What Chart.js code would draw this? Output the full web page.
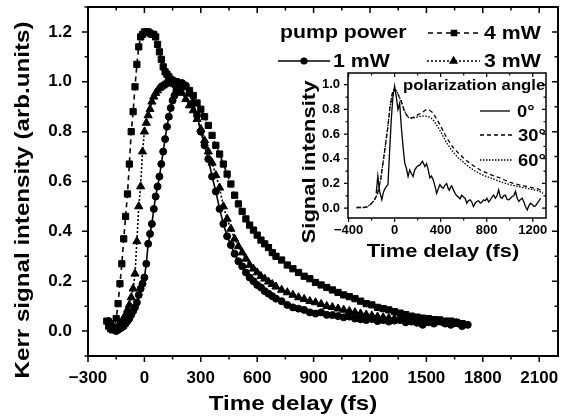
<!DOCTYPE html>
<html>
<head>
<meta charset="utf-8">
<script src="https://cdn.jsdelivr.net/npm/chart.js@4.4.0/dist/chart.umd.min.js"></script>
<style>
  html, body { margin: 0; padding: 0; background: #fff; }
  #wrap { position: relative; width: 567px; height: 417px; }
  #mainChart { position: absolute; left: 0; top: 0; }
  #insetChart { position: absolute; left: 285px; top: 65px; }
</style>
</head>
<body>
<div id="wrap">
  <canvas id="mainChart" width="567" height="417"></canvas>
  <canvas id="insetChart" width="270" height="200"></canvas>
</div>
<script>
// ---- main plot data (time delay in fs, Kerr signal in arb. units) ----
const times = [
  -200,-190,-180,-170,-160,-150,-140,-130,-120,-110,
  -100,-90,-80,-70,-60,-50,-40,-30,-20,-10,
  0,10,20,30,40,50,60,70,80,90,
  100,110,120,130,140,150,160,170,180,190,
  200,220,240,260,280,300,320,340,360,380,
  400,420,440,460,480,500,520,540,560,580,
  600,620,640,660,680,700,730,760,790,820,
  850,880,910,940,970,1000,1030,1060,1090,1120,
  1150,1180,1210,1240,1270,1300,1330,1360,1390,1420,
  1450,1480,1510,1540,1570,1600,1630,1660,1690,1720
];
const power4mW = [
  0.04,0.02,0.01,0.005,0.01,0.05,0.11,0.19,0.27,0.37,
  0.46,0.55,0.67,0.80,0.88,0.98,1.07,1.14,1.18,1.19,
  1.20,1.20,1.20,1.195,1.19,1.19,1.18,1.15,1.12,1.09,
  1.06,1.04,1.03,1.02,1.01,1.005,1.0,1.0,0.995,0.99,
  0.99,0.98,0.965,0.945,0.915,0.89,0.86,0.825,0.785,0.745,
  0.71,0.67,0.63,0.59,0.545,0.51,0.48,0.45,0.425,0.405,
  0.385,0.365,0.35,0.335,0.315,0.30,0.285,0.265,0.25,0.235,
  0.22,0.21,0.195,0.185,0.175,0.165,0.155,0.145,0.138,0.13,
  0.12,0.11,0.105,0.095,0.09,0.085,0.078,0.072,0.066,0.06,
  0.056,0.052,0.05,0.046,0.045,0.04,0.04,0.035,0.03,null
];
const power1mW = [
  null,0.04,0.03,0.015,0.005,0.0,0.005,0.01,0.015,0.02,
  0.03,0.04,0.05,0.065,0.08,0.095,0.115,0.145,0.17,0.19,
  0.215,0.27,0.35,0.39,0.43,0.49,0.54,0.58,0.62,0.67,
  0.72,0.77,0.82,0.86,0.895,0.925,0.945,0.965,0.98,0.99,
  0.995,0.985,0.955,0.915,0.865,0.80,0.745,0.69,0.62,0.56,
  0.49,0.43,0.38,0.345,0.31,0.28,0.26,0.235,0.215,0.20,
  0.185,0.175,0.16,0.15,0.14,0.13,0.12,0.105,0.095,0.09,
  0.085,0.075,0.07,0.075,0.065,0.064,0.06,0.055,0.058,0.05,
  0.047,0.044,0.048,0.04,0.044,0.038,0.042,0.044,0.035,0.038,
  0.033,0.025,0.035,0.03,0.04,0.03,0.025,0.035,0.02,0.025
];
const power3mW = [
  null,null,0.03,0.02,0.01,0.01,0.02,0.03,0.04,0.05,
  0.065,0.085,0.105,0.135,0.17,0.23,0.36,0.50,0.58,0.72,
  0.80,0.835,0.865,0.89,0.92,0.94,0.955,0.965,0.975,0.98,
  0.985,0.99,0.995,1.0,1.0,0.995,0.99,0.985,0.975,0.965,
  0.955,0.93,0.905,0.885,0.85,0.81,0.765,0.72,0.675,0.625,
  0.575,0.50,0.45,0.41,0.37,0.34,0.315,0.29,0.265,0.25,
  0.235,0.22,0.21,0.198,0.188,0.178,0.165,0.155,0.145,0.135,
  0.128,0.12,0.115,0.108,0.10,0.096,0.09,0.085,0.08,0.075,
  0.07,0.066,0.062,0.058,0.055,0.052,0.05,0.047,0.045,0.043,
  0.04,0.04,0.038,0.035,0.035,0.032,0.03,0.028,0.025,null
];
const mainXTicks = [-300, 0, 300, 600, 900, 1200, 1500, 1800, 2100];
const mainYTicks = [0.0, 0.2, 0.4, 0.6, 0.8, 1.0, 1.2];

// ---- inset data (polarization angle) ----
const insetTimes = [
  -330,-300,-270,-240,-210,-180,-150,-120,-90,-60,-40,-20,0,20,40,60,80,100,120,150,
  180,210,240,270,300,330,360,400,450,500,550,600,650,700,750,800,850,900,950,1000,
  1050,1100,1150,1200,1250,1290
];
const angle30 = [
  0.005,0.005,0.005,0.01,0.03,0.06,0.11,0.24,0.44,0.65,0.82,0.93,0.965,0.945,0.90,0.86,0.80,0.76,0.735,0.73,
  0.745,0.76,0.775,0.795,0.795,0.775,0.73,0.665,0.575,0.50,0.45,0.405,0.365,0.335,0.305,0.285,0.265,0.25,0.23,0.21,
  0.195,0.185,0.175,0.165,0.155,0.13
];
const angle60 = [
  0.005,0.005,0.005,0.01,0.03,0.06,0.11,0.24,0.44,0.65,0.82,0.93,0.965,0.945,0.90,0.86,0.80,0.76,0.735,0.73,
  0.735,0.74,0.745,0.745,0.74,0.72,0.68,0.62,0.53,0.465,0.41,0.37,0.33,0.30,0.275,0.255,0.24,0.22,0.205,0.19,
  0.18,0.17,0.16,0.15,0.14,0.12
];
const angle0Times = [
  -160,-146,-131,-111,-100,-88,-73,-58,-44,-29,-15,0,15,29,44,58,73,88,102,117,
  131,146,160,175,195,219,242,263,277,292,306,320,335,350,365,380,394,408,423,437,
  452,465,475,486,496,510,525,540,554,568,583,598,612,627,641,656,670,685,700,714,
  729,744,758,773,788,802,817,831,846,860,875,889,904,918,933,947,962,977,992,1006,
  1021,1035,1050,1065,1079,1094,1108,1123,1137,1152,1166,1181,1196,1210,1225,1240,1255,1269
];
const angle0 = [
  0.12,0.26,0.14,0.067,0.12,0.15,0.175,0.19,0.45,0.72,0.9,0.99,0.9,0.8,0.85,0.66,0.5,0.365,0.325,0.256,
  0.31,0.28,0.256,0.31,0.337,0.35,0.38,0.337,0.36,0.31,0.245,0.26,0.23,0.18,0.12,0.16,0.19,0.17,0.16,0.185,
  0.2,0.16,0.145,0.17,0.18,0.15,0.12,0.1,0.09,0.075,0.105,0.09,0.08,0.04,0.06,0.067,0.05,0.013,0.04,0.054,
  0.06,0.04,0.05,0.067,0.06,0.08,0.05,0.067,0.09,0.105,0.08,0.1,0.148,0.09,0.08,0.1,0.105,0.07,0.067,0.08,
  0.094,0.1,0.135,0.08,0.054,0.07,0.08,0.05,0.013,-0.015,0.02,0.04,0.03,0.013,0.02,0.04,0.06,0.08
];
const insetXTicks = [-400, 0, 400, 800, 1200];
const insetYTicks = [0.0, 0.2, 0.4, 0.6, 0.8, 1.0];

const FONT = '"Liberation Sans", Arial, sans-serif';
Chart.defaults.font.family = FONT;
Chart.defaults.color = '#000';

function pairs(xs, ys) {
  const out = [];
  xs.forEach((x, i) => { if (ys[i] !== null) out.push({ x: x, y: ys[i] }); });
  return out;
}
const minus = s => String(s).replace('-', '\u2212');

// fixed axis box, no label overflow padding so the plot area lands where it should
function fixBox(prop, size) {
  return s => {
    s[prop] = size;
    s.paddingTop = 0; s.paddingBottom = 0; s.paddingLeft = 0; s.paddingRight = 0;
  };
}

// text with a little horizontal stretch (the original lettering is wide)
function wideText(ctx, str, x, y, size, sx, align, rot) {
  ctx.save();
  ctx.translate(x, y);
  if (rot) ctx.rotate(rot);
  ctx.scale(sx, 1);
  ctx.font = 'bold ' + size + 'px ' + FONT;
  ctx.textAlign = align;
  ctx.textBaseline = 'alphabetic';
  ctx.fillStyle = '#000';
  ctx.fillText(str, 0, 0);
  ctx.restore();
}

// boxed frame with Origin-style ticks: outward on left/bottom, inward on top/right
const axisFrame = {
  id: 'axisFrame',
  afterDatasetsDraw(chart, args, o) {
    const { ctx, chartArea: a } = chart;
    const xs = chart.scales.x, ys = chart.scales.y;
    ctx.save();
    ctx.strokeStyle = '#000';
    ctx.lineWidth = o.width;
    ctx.strokeRect(a.left, a.top, a.right - a.left, a.bottom - a.top);
    ctx.lineWidth = o.tickWidth;
    ctx.beginPath();
    for (let i = 0; ; i++) {
      const v = o.xFrom + i * o.xStep;
      if (v > xs.max + 1e-9) break;
      const px = xs.getPixelForValue(v);
      const r = v / o.xMajor;
      const len = Math.abs(r - Math.round(r)) < 1e-6 ? o.major : o.minor;
      ctx.moveTo(px, a.bottom); ctx.lineTo(px, a.bottom + len);
      ctx.moveTo(px, a.top); ctx.lineTo(px, a.top + len);
    }
    for (let i = 0; ; i++) {
      const v = o.yFrom + i * o.yStep;
      if (v > ys.max + 1e-9) break;
      const py = ys.getPixelForValue(v);
      const r = v / o.yMajor;
      const len = Math.abs(r - Math.round(r)) < 1e-6 ? o.major : o.minor;
      ctx.moveTo(a.left, py); ctx.lineTo(a.left - len, py);
      ctx.moveTo(a.right, py); ctx.lineTo(a.right - len, py);
    }
    ctx.stroke();
    ctx.restore();
  }
};

function sample(ctx, ds, x1, x2, y, lw) {
  ctx.save();
  ctx.strokeStyle = '#000';
  ctx.fillStyle = '#000';
  ctx.lineWidth = lw;
  ctx.setLineDash(ds.borderDash || []);
  ctx.beginPath(); ctx.moveTo(x1, y); ctx.lineTo(x2, y); ctx.stroke();
  ctx.setLineDash([]);
  if (ds.pointRadius) {
    Chart.helpers.drawPoint(ctx, { pointStyle: ds.pointStyle, radius: ds.pointRadius * 0.8, rotation: 0, borderWidth: 1 }, (x1 + x2) / 2, y);
  }
  ctx.restore();
}

const mainDecor = {
  id: 'mainDecor',
  afterDraw(chart) {
    const ctx = chart.ctx;
    const d = chart.data.datasets;
    wideText(ctx, 'Kerr signal intensity (arb.units)', 29, 200, 21, 1.15, 'center', -Math.PI / 2);
    wideText(ctx, 'Time delay (fs)', 293, 410, 21, 1.15, 'center');
    wideText(ctx, 'pump power', 280, 38, 19, 1.12, 'left');
    sample(ctx, d[0], 428, 480, 33, 1.6);
    wideText(ctx, d[0].label, 484, 39, 19, 1.12, 'left');
    sample(ctx, d[2], 278, 330, 61, 1.6);
    wideText(ctx, d[2].label, 333, 67, 19, 1.12, 'left');
    sample(ctx, d[1], 427, 480, 61, 1.6);
    wideText(ctx, d[1].label, 484, 67, 19, 1.12, 'left');
  }
};

const insetDecor = {
  id: 'insetDecor',
  afterDraw(chart) {
    const ctx = chart.ctx;
    const d = chart.data.datasets;
    wideText(ctx, 'Signal intensity', 30, 97, 19, 1.16, 'center', -Math.PI / 2);
    wideText(ctx, 'Time delay (fs)', 158, 192, 19, 1.15, 'center');
    wideText(ctx, 'polarization angle', 118, 25, 15.5, 1.08, 'left');
    sample(ctx, d[0], 195, 225, 46, 1.3);
    wideText(ctx, d[0].label, 232, 52, 17, 1.08, 'left');
    sample(ctx, d[1], 195, 229, 70, 1.3);
    wideText(ctx, d[1].label, 233, 76, 17, 1.08, 'left');
    sample(ctx, d[2], 195, 228, 95, 1.3);
    wideText(ctx, d[2].label, 233, 101, 17, 1.08, 'left');
  }
};

const tickFont = size => ({ family: FONT, size: size, weight: 'bold' });

new Chart(document.getElementById('mainChart'), {
  type: 'line',
  data: {
    datasets: [
      {
        label: '4 mW', data: pairs(times, power4mW),
        borderColor: '#000', borderWidth: 1.6, borderDash: [5, 4],
        pointStyle: 'rect', pointRadius: 4.4, pointBackgroundColor: '#000', pointBorderColor: '#000', pointBorderWidth: 1
      },
      {
        label: '3 mW', data: pairs(times, power3mW),
        borderColor: '#000', borderWidth: 1.6, borderDash: [2, 2],
        pointStyle: 'triangle', pointRadius: 4.7, pointBackgroundColor: '#000', pointBorderColor: '#000', pointBorderWidth: 1
      },
      {
        label: '1 mW', data: pairs(times, power1mW),
        borderColor: '#000', borderWidth: 1.6,
        pointStyle: 'circle', pointRadius: 3.5, pointBackgroundColor: '#000', pointBorderColor: '#000', pointBorderWidth: 1
      }
    ]
  },
  options: {
    responsive: false,
    animation: false,
    layout: { padding: { left: 0, right: 9, top: 7, bottom: 0 } },
    plugins: {
      legend: { display: false },
      tooltip: { enabled: false },
      axisFrame: { width: 2, tickWidth: 1.5, major: 6, minor: 3.5, xFrom: -300, xStep: 150, xMajor: 300, yFrom: -0.1, yStep: 0.1, yMajor: 0.2 }
    },
    scales: {
      x: {
        type: 'linear', min: -300, max: 2200,
        afterFit: fixBox('height', 61),
        afterBuildTicks: s => { s.ticks = mainXTicks.map(v => ({ value: v })); },
        grid: { display: false, drawTicks: false }, border: { display: false },
        ticks: { font: tickFont(17), color: '#000', padding: 12, maxRotation: 0, autoSkip: false, callback: v => minus(v) }
      },
      y: {
        type: 'linear', min: -0.1, max: 1.3,
        afterFit: fixBox('width', 88),
        afterBuildTicks: s => { s.ticks = mainYTicks.map(v => ({ value: v })); },
        grid: { display: false, drawTicks: false }, border: { display: false },
        ticks: { font: tickFont(17), color: '#000', padding: 16, autoSkip: false, callback: v => v.toFixed(1) }
      }
    }
  },
  plugins: [axisFrame, mainDecor]
});

new Chart(document.getElementById('insetChart'), {
  type: 'line',
  data: {
    datasets: [
      { label: '0\u00b0', data: pairs(angle0Times, angle0), borderColor: '#000', borderWidth: 1.3, pointRadius: 0 },
      { label: '30\u00b0', data: pairs(insetTimes, angle30), borderColor: '#000', borderWidth: 1.3, borderDash: [4, 3], pointRadius: 0 },
      { label: '60\u00b0', data: pairs(insetTimes, angle60), borderColor: '#000', borderWidth: 1.3, borderDash: [1.5, 1.5], pointRadius: 0 }
    ]
  },
  options: {
    responsive: false,
    animation: false,
    layout: { padding: { left: 0, right: 9, top: 8, bottom: 0 } },
    plugins: {
      legend: { display: false },
      tooltip: { enabled: false },
      axisFrame: { width: 1.5, tickWidth: 1.2, major: 4, minor: 2.5, xFrom: -400, xStep: 200, xMajor: 400, yFrom: 0, yStep: 0.1, yMajor: 0.2 }
    },
    scales: {
      x: {
        type: 'linear', min: -405, max: 1315,
        afterFit: fixBox('height', 47),
        afterBuildTicks: s => { s.ticks = insetXTicks.map(v => ({ value: v })); },
        grid: { display: false, drawTicks: false }, border: { display: false },
        ticks: { font: tickFont(13), color: '#000', padding: 5, maxRotation: 0, autoSkip: false, callback: v => minus(v) }
      },
      y: {
        type: 'linear', min: -0.08, max: 1.095,
        afterFit: fixBox('width', 63),
        afterBuildTicks: s => { s.ticks = insetYTicks.map(v => ({ value: v })); },
        grid: { display: false, drawTicks: false }, border: { display: false },
        ticks: { font: tickFont(13), color: '#000', padding: 8, autoSkip: false, callback: v => v.toFixed(1) }
      }
    }
  },
  plugins: [axisFrame, insetDecor]
});
</script>
</body>
</html>
